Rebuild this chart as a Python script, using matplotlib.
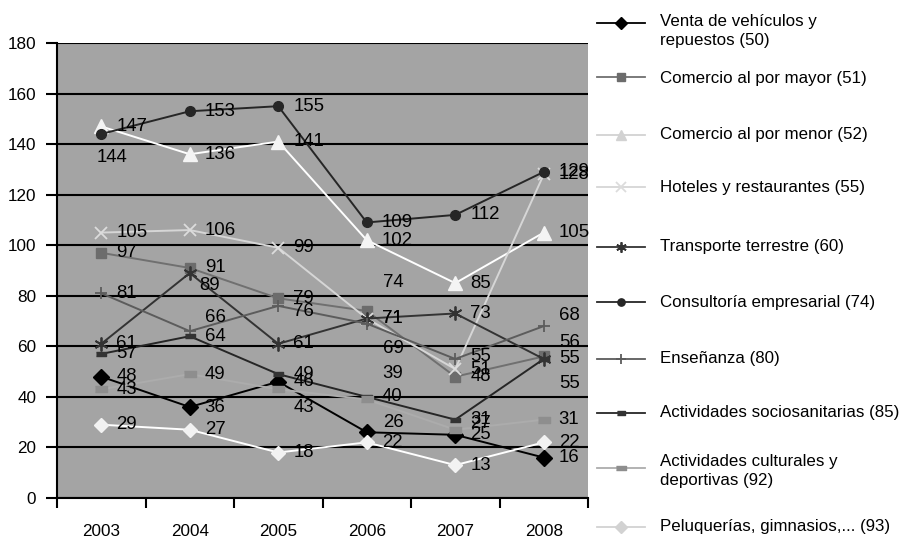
import matplotlib
matplotlib.use("Agg")
import matplotlib.pyplot as plt
from matplotlib.lines import Line2D

FAMILY = ["Liberation Sans", "DejaVu Sans"]
plt.rcParams["font.family"] = FAMILY

# ---------------------------------------------------------------- data
YEARS = ["2003", "2004", "2005", "2006", "2007", "2008"]

SERIES_NAMES = [
    "Venta de vehículos y\nrepuestos (50)",
    "Comercio al por mayor (51)",
    "Comercio al por menor (52)",
    "Hoteles y restaurantes (55)",
    "Transporte terrestre (60)",
    "Consultoría empresarial (74)",
    "Enseñanza (80)",
    "Actividades sociosanitarias (85)",
    "Actividades culturales y\ndeportivas (92)",
    "Peluquerías, gimnasios,... (93)",
]

venta = [48, 36, 46, 26, 25, 16]
mayor = [97, 91, 79, 74, 48, 56]
menor = [147, 136, 141, 102, 85, 105]
hoteles = [105, 106, 99, 71, 51, 128]
transporte = [61, 89, 61, 71, 73, 55]
consultoria = [144, 153, 155, 109, 112, 129]
ensenanza = [81, 66, 76, 69, 55, 68]
sociosanitarias = [57, 64, 49, 40, 31, 55]
culturales = [43, 49, 43, 39, 27, 31]
peluquerias = [29, 27, 18, 22, 13, 22]

VALUES = [venta, mayor, menor, hoteles, transporte, consultoria,
          ensenanza, sociosanitarias, culturales, peluquerias]

# ---------------------------------------------------------------- styles
dash = [(-1, -0.45), (1, -0.45), (1, 0.45), (-1, 0.45)]
STYLES = [
    dict(color="#000000", marker="D", ms=8.5, mfc="#000000", mec="#000000"),
    dict(color="#707070", marker="s", ms=7.5, mfc="#6c6c6c", mec="#6c6c6c"),
    dict(color="#ffffff", marker="^", ms=9.5, mfc="#f4f4f4", mec="#f4f4f4"),
    dict(color="#d6d6d6", marker="x", ms=9, mfc="#d6d6d6", mec="#dcdcdc", mew=1.3),
    dict(color="#333333", marker=(6, 2, 0), ms=10, mfc="#333333", mec="#333333", mew=1.3),
    dict(color="#262626", marker="o", ms=7, mfc="#262626", mec="#262626"),
    dict(color="#5c5c5c", marker="+", ms=9, mfc="#5c5c5c", mec="#5c5c5c", mew=1.3),
    dict(color="#262626", marker=dash, ms=7, mfc="#333333", mec="#333333"),
    dict(color="#acacac", marker=dash, ms=9, mfc="#8e8e8e", mec="#8e8e8e"),
    dict(color="#ffffff", marker="D", ms=7.5, mfc="#f2f2f2", mec="#f2f2f2"),
]

# label nudges in pixels (series index, year index) -> (dx, dy)
NUDGE = {
    (5, 0): (-5, -24),
    (4, 1): (10, -12),
    (6, 1): (15, 14),
    (6, 2): (15, -6),
    (8, 2): (15, -18),
    (1, 3): (16, 28),
    (6, 3): (16, -25),
    (8, 3): (16, 26),
    (0, 3): (16, 10),
    (8, 4): (15, 6),
    (6, 4): (15, 2),
    (6, 5): (15, 11),
    (1, 5): (15, 14),
    (7, 5): (15, -25),
}

fig = plt.figure(figsize=(9.01, 5.38), dpi=100)
ax = fig.add_axes([57 / 901, 40 / 538, 531 / 901, 455 / 538])
ax.set_facecolor("#a4a4a4")

x = list(range(len(YEARS)))
for i, (vals, st) in enumerate(zip(VALUES, STYLES)):
    ax.plot(x, vals, lw=1.4, zorder=3 + i * 0.1, **st)
    for j, v in enumerate(vals):
        dx, dy = NUDGE.get((i, j), (15, 0))
        ax.annotate(str(v), (j, v), xytext=(dx, dy), textcoords="offset pixels",
                    ha="left", va="center", fontsize=13.4,
                    color="black", zorder=10)

ax.set_xlim(-0.5, len(YEARS) - 0.5)
ax.set_ylim(0, 180)
ax.set_yticks(range(0, 181, 20))
ax.yaxis.grid(True, color="black", lw=1.5)
ax.set_axisbelow(True)
ax.set_xticks(x)
ax.set_xticklabels(YEARS)
ax.set_xticks([k - 0.5 for k in range(len(YEARS) + 1)], minor=True)
ax.tick_params(axis="x", which="major", length=0, pad=19, labelsize=12.3)
ax.tick_params(axis="x", which="minor", length=7, width=1.5, direction="out")
ax.tick_params(axis="y", length=8, width=1.5, pad=7, labelsize=12.3)
for s in ("top", "right"):
    ax.spines[s].set_visible(False)
for s in ("left", "bottom"):
    ax.spines[s].set_linewidth(1.5)
ax.spines["left"].set_zorder(20)

# ---------------------------------------------------------------- legend (manual)
LEG_HANDLE_Y = [23, 77, 135, 187, 247, 302, 359, 413, 468, 527]
LEG_TEXT_Y = [31, 78, 135, 187, 247, 302, 359, 413, 471, 527]
for name, st, hy, ty in zip(SERIES_NAMES, STYLES, LEG_HANDLE_Y, LEG_TEXT_Y):
    lst = dict(st)
    lst["ms"] = st["ms"] * 0.75
    lcol = lst.pop("color")
    if lcol == "#ffffff":
        lcol = "#d2d2d2"
        lst["mfc"] = "#d2d2d2"
        lst["mec"] = "#d2d2d2"
    fy = 1 - hy / 538
    fig.add_artist(Line2D([597 / 901, 645 / 901], [fy, fy], color=lcol, lw=1.3,
                          transform=fig.transFigure))
    fig.add_artist(Line2D([621 / 901], [fy], color=lcol, ls="none",
                          transform=fig.transFigure, **lst))
    fig.text(660 / 901, 1 - ty / 538, name, ha="left", va="center",
             fontsize=12.2, linespacing=1.35)

fig.savefig("out.png", dpi=100)
